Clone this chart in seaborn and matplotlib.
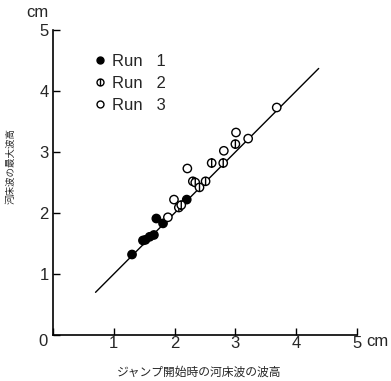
import numpy as np
import pandas as pd
import seaborn as sns
import matplotlib.pyplot as plt
from matplotlib.path import Path
from matplotlib.lines import Line2D

# Wave heights (cm)
run1_x = [1.30, 1.48, 1.52, 1.59, 1.66, 1.70, 1.81, 2.20]
run1_y = [1.32, 1.55, 1.56, 1.61, 1.64, 1.91, 1.83, 2.22]
run2_x = [2.07, 2.11, 2.30, 2.34, 2.41, 2.51, 2.61, 2.80, 3.00]
run2_y = [2.09, 2.13, 2.52, 2.50, 2.42, 2.52, 2.82, 2.82, 3.13]
run3_x = [1.89, 1.99, 2.21, 2.81, 3.01, 3.21, 3.68]
run3_y = [1.93, 2.22, 2.73, 3.02, 3.32, 3.22, 3.73]
run_names = ["Run   1", "Run   2", "Run   3"]
fit_x = [0.7, 4.37]

df = pd.DataFrame({
    "x": run1_x + run2_x + run3_x,
    "y": run1_y + run2_y + run3_y,
    "run": [run_names[0]] * len(run1_x) + [run_names[1]] * len(run2_x) + [run_names[2]] * len(run3_x),
})

sns.set_style("ticks")
plt.rcParams["font.family"] = ["Liberation Sans", "Noto Sans CJK JP"]

# circle with a vertical bar for Run 2
phi = Path.make_compound_path(Path.unit_circle(), Path([[0, -1], [0, 1]], [Path.MOVETO, Path.LINETO]))
markers = {run_names[0]: "o", run_names[1]: phi, run_names[2]: "o"}
palette = {run_names[0]: "black", run_names[1]: "white", run_names[2]: "white"}

fig = plt.figure(figsize=(3.91, 3.81), dpi=100)
ax = fig.add_axes([0.1355, 0.1207, 0.7775, 0.8005])

# 1:1 line
sns.lineplot(x=fit_x, y=fit_x, color="black", linewidth=1.0, ax=ax)

sns.scatterplot(data=df, x="x", y="y", hue="run", style="run", markers=markers,
                palette=palette, edgecolor="black", linewidth=1.0, s=36,
                legend=False, ax=ax, zorder=3, clip_on=False)

ax.set_xlim(0, 5)
ax.set_ylim(0, 5)
ax.set_xticks([0, 1, 2, 3, 4, 5])
ax.set_yticks([0, 1, 2, 3, 4, 5])
ax.set_xticklabels(["", "1", "2", "3", "4", "5"])
ax.set_yticklabels(["", "1", "2", "3", "4", "5"])
ax.tick_params(direction="in", length=5, width=1, labelsize=12, color="black")
ax.tick_params(axis="x", pad=1)
ax.tick_params(axis="y", pad=3)
sns.despine(ax=ax)
for s in ["left", "bottom"]:
    ax.spines[s].set_linewidth(1.2)
    ax.spines[s].set_color("black")

ax.set_xlabel("ジャンプ開始時の河床波の波高", fontsize=8.5)
ax.set_ylabel("河床波の最大波高", fontsize=6.8)
ax.xaxis.set_label_coords(0.48, -0.105)
ax.yaxis.set_label_coords(-0.122, 0.554)

ax.text(-0.16, -0.105, "0", ha="center", va="center", fontsize=12, clip_on=False)
ax.text(5.16, -0.105, "cm", ha="left", va="center", fontsize=12, clip_on=False)
ax.text(-0.25, 5.28, "cm", ha="center", va="center", fontsize=12, clip_on=False)

handles = [
    Line2D([], [], marker="o", linestyle="", markerfacecolor="black", markeredgecolor="black", markersize=5),
    Line2D([], [], marker=phi, linestyle="", markerfacecolor="white", markeredgecolor="black", markersize=5),
    Line2D([], [], marker="o", linestyle="", markerfacecolor="white", markeredgecolor="black", markersize=5),
]
ax.legend(handles, run_names, loc="upper left", bbox_to_anchor=(0.072, 0.97), frameon=False,
          fontsize=12, handletextpad=0.15, labelspacing=0.42, handlelength=1.2)

fig.savefig("out.png", dpi=100)
